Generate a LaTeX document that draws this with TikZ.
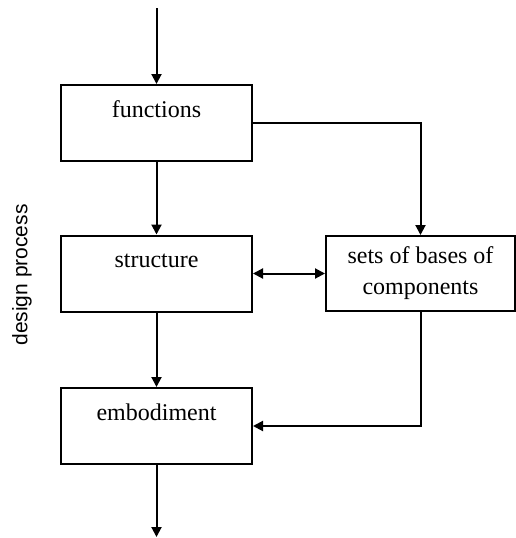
\documentclass[tikz,border=0pt]{standalone}
\usepackage{fontspec}
\setmainfont{Liberation Serif}
\newfontfamily\sidefont{Liberation Sans}
\usetikzlibrary{arrows.meta}

\begin{document}
\begin{tikzpicture}[x=1pt, y=-1pt, >={Triangle[length=10pt,width=10pt]}, line width=2pt]
      % Cadre de l'image
      \useasboundingbox (0, 0) rectangle (515, 538);

      % On définit les styles
      \tikzstyle{blockbox} = [draw, line width=2pt, minimum width=191pt, minimum height=76pt, inner sep=0pt, font=\fontsize{24}{31}\selectfont]
      \tikzstyle{stage} = [blockbox, text height=17pt, text depth=29pt]
      \tikzstyle{conn} = [line width=2pt]

      % Stages
      \node[stage] (fun) at (156.5, 123) {functions};
      \node[stage] (str) at (156.5, 273.5) {structure};
      \node[stage] (emb) at (156.5, 426) {embodiment};

      % Bases box
      \node[blockbox, align=center, minimum width=189pt, minimum height=75pt] (bas) at (420.5, 273.5) {sets of bases of\\components};

      % Side label
      \node[rotate=90, font=\sidefont\fontsize{21}{25}\selectfont] (lab) at (22, 275) {design process};

      % Free ends
      \coordinate (in) at (156.5, 8);
      \coordinate (out) at (156.5, 537);

      % Arrows
      \draw[conn, ->] (in) -- (fun);
      \draw[conn, ->] (fun) -- (str);
      \draw[conn, ->] (str) -- (emb);
      \draw[conn, ->] (emb) -- (out);
      \draw[conn, ->] (fun.east) -| (bas.north);
      \draw[conn, <->] (str) -- (bas);
      \draw[conn, ->] (bas.south) |- (emb.east);

    \end{tikzpicture}
\end{document}
